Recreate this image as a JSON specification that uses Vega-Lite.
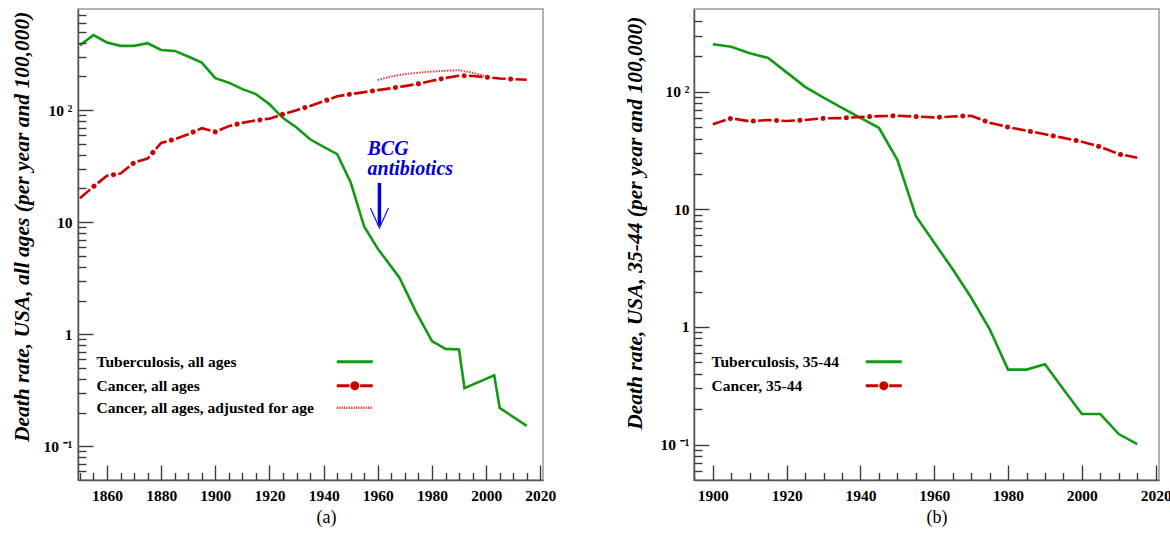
{
  "$schema": "https://vega.github.io/schema/vega-lite/v6.json",
  "background": "white",
  "padding": {"left": 10, "top": 8, "right": 0, "bottom": 0},
  "spacing": 66,
  "datasets": {
    "left": [
      {"series": "Tuberculosis, all ages", "year": 1850, "rate": 380},
      {"series": "Tuberculosis, all ages", "year": 1855, "rate": 468},
      {"series": "Tuberculosis, all ages", "year": 1860, "rate": 402},
      {"series": "Tuberculosis, all ages", "year": 1865, "rate": 375},
      {"series": "Tuberculosis, all ages", "year": 1870, "rate": 375},
      {"series": "Tuberculosis, all ages", "year": 1875, "rate": 396},
      {"series": "Tuberculosis, all ages", "year": 1880, "rate": 345},
      {"series": "Tuberculosis, all ages", "year": 1885, "rate": 338},
      {"series": "Tuberculosis, all ages", "year": 1890, "rate": 301},
      {"series": "Tuberculosis, all ages", "year": 1895, "rate": 266},
      {"series": "Tuberculosis, all ages", "year": 1900, "rate": 193},
      {"series": "Tuberculosis, all ages", "year": 1905, "rate": 176},
      {"series": "Tuberculosis, all ages", "year": 1910, "rate": 154},
      {"series": "Tuberculosis, all ages", "year": 1915, "rate": 139},
      {"series": "Tuberculosis, all ages", "year": 1920, "rate": 113},
      {"series": "Tuberculosis, all ages", "year": 1925, "rate": 85},
      {"series": "Tuberculosis, all ages", "year": 1930, "rate": 70},
      {"series": "Tuberculosis, all ages", "year": 1935, "rate": 55},
      {"series": "Tuberculosis, all ages", "year": 1940, "rate": 47},
      {"series": "Tuberculosis, all ages", "year": 1945, "rate": 40.5},
      {"series": "Tuberculosis, all ages", "year": 1950, "rate": 22.6},
      {"series": "Tuberculosis, all ages", "year": 1955, "rate": 9.1},
      {"series": "Tuberculosis, all ages", "year": 1960, "rate": 5.8},
      {"series": "Tuberculosis, all ages", "year": 1968, "rate": 3.2},
      {"series": "Tuberculosis, all ages", "year": 1974, "rate": 1.6},
      {"series": "Tuberculosis, all ages", "year": 1980, "rate": 0.87},
      {"series": "Tuberculosis, all ages", "year": 1985, "rate": 0.74},
      {"series": "Tuberculosis, all ages", "year": 1990, "rate": 0.73},
      {"series": "Tuberculosis, all ages", "year": 1992, "rate": 0.33},
      {"series": "Tuberculosis, all ages", "year": 2003, "rate": 0.43},
      {"series": "Tuberculosis, all ages", "year": 2005, "rate": 0.22},
      {"series": "Tuberculosis, all ages", "year": 2015, "rate": 0.152},
      {"series": "Cancer, all ages", "year": 1850, "rate": 16.4},
      {"series": "Cancer, all ages", "year": 1855, "rate": 20.8},
      {"series": "Cancer, all ages", "year": 1860, "rate": 26},
      {"series": "Cancer, all ages", "year": 1865, "rate": 27.2},
      {"series": "Cancer, all ages", "year": 1870, "rate": 34},
      {"series": "Cancer, all ages", "year": 1875, "rate": 37},
      {"series": "Cancer, all ages", "year": 1880, "rate": 51},
      {"series": "Cancer, all ages", "year": 1885, "rate": 55},
      {"series": "Cancer, all ages", "year": 1890, "rate": 61},
      {"series": "Cancer, all ages", "year": 1895, "rate": 69},
      {"series": "Cancer, all ages", "year": 1900, "rate": 64},
      {"series": "Cancer, all ages", "year": 1905, "rate": 72},
      {"series": "Cancer, all ages", "year": 1910, "rate": 77},
      {"series": "Cancer, all ages", "year": 1915, "rate": 81},
      {"series": "Cancer, all ages", "year": 1920, "rate": 84},
      {"series": "Cancer, all ages", "year": 1925, "rate": 92},
      {"series": "Cancer, all ages", "year": 1930, "rate": 100},
      {"series": "Cancer, all ages", "year": 1935, "rate": 109},
      {"series": "Cancer, all ages", "year": 1940, "rate": 120},
      {"series": "Cancer, all ages", "year": 1945, "rate": 133},
      {"series": "Cancer, all ages", "year": 1950, "rate": 139},
      {"series": "Cancer, all ages", "year": 1955, "rate": 145},
      {"series": "Cancer, all ages", "year": 1960, "rate": 151},
      {"series": "Cancer, all ages", "year": 1965, "rate": 157},
      {"series": "Cancer, all ages", "year": 1970, "rate": 164},
      {"series": "Cancer, all ages", "year": 1975, "rate": 172},
      {"series": "Cancer, all ages", "year": 1980, "rate": 183},
      {"series": "Cancer, all ages", "year": 1985, "rate": 194},
      {"series": "Cancer, all ages", "year": 1990, "rate": 203},
      {"series": "Cancer, all ages", "year": 1995, "rate": 202},
      {"series": "Cancer, all ages", "year": 2000, "rate": 197},
      {"series": "Cancer, all ages", "year": 2005, "rate": 192},
      {"series": "Cancer, all ages", "year": 2010, "rate": 189},
      {"series": "Cancer, all ages", "year": 2015, "rate": 187},
      {"series": "Cancer, all ages, adjusted for age", "year": 1960, "rate": 186},
      {"series": "Cancer, all ages, adjusted for age", "year": 1965, "rate": 200},
      {"series": "Cancer, all ages, adjusted for age", "year": 1970, "rate": 210},
      {"series": "Cancer, all ages, adjusted for age", "year": 1975, "rate": 216},
      {"series": "Cancer, all ages, adjusted for age", "year": 1980, "rate": 221},
      {"series": "Cancer, all ages, adjusted for age", "year": 1985, "rate": 225},
      {"series": "Cancer, all ages, adjusted for age", "year": 1990, "rate": 227},
      {"series": "Cancer, all ages, adjusted for age", "year": 1995, "rate": 216},
      {"series": "Cancer, all ages, adjusted for age", "year": 2000, "rate": 201}
    ],
    "right": [
      {"series": "Tuberculosis, 35-44", "year": 1900, "rate": 253},
      {"series": "Tuberculosis, 35-44", "year": 1905, "rate": 241},
      {"series": "Tuberculosis, 35-44", "year": 1910, "rate": 212},
      {"series": "Tuberculosis, 35-44", "year": 1915, "rate": 194},
      {"series": "Tuberculosis, 35-44", "year": 1920, "rate": 146},
      {"series": "Tuberculosis, 35-44", "year": 1925, "rate": 110},
      {"series": "Tuberculosis, 35-44", "year": 1930, "rate": 89},
      {"series": "Tuberculosis, 35-44", "year": 1935, "rate": 73},
      {"series": "Tuberculosis, 35-44", "year": 1940, "rate": 60},
      {"series": "Tuberculosis, 35-44", "year": 1945, "rate": 49.4},
      {"series": "Tuberculosis, 35-44", "year": 1950, "rate": 26.4},
      {"series": "Tuberculosis, 35-44", "year": 1955, "rate": 8.8},
      {"series": "Tuberculosis, 35-44", "year": 1960, "rate": 5.2},
      {"series": "Tuberculosis, 35-44", "year": 1965, "rate": 3.1},
      {"series": "Tuberculosis, 35-44", "year": 1970, "rate": 1.78},
      {"series": "Tuberculosis, 35-44", "year": 1975, "rate": 0.96},
      {"series": "Tuberculosis, 35-44", "year": 1980, "rate": 0.434},
      {"series": "Tuberculosis, 35-44", "year": 1985, "rate": 0.434},
      {"series": "Tuberculosis, 35-44", "year": 1990, "rate": 0.483},
      {"series": "Tuberculosis, 35-44", "year": 1995, "rate": 0.296},
      {"series": "Tuberculosis, 35-44", "year": 2000, "rate": 0.182},
      {"series": "Tuberculosis, 35-44", "year": 2005, "rate": 0.182},
      {"series": "Tuberculosis, 35-44", "year": 2010, "rate": 0.123},
      {"series": "Tuberculosis, 35-44", "year": 2015, "rate": 0.101},
      {"series": "Cancer, 35-44", "year": 1900, "rate": 52.8},
      {"series": "Cancer, 35-44", "year": 1905, "rate": 59.5},
      {"series": "Cancer, 35-44", "year": 1910, "rate": 56},
      {"series": "Cancer, 35-44", "year": 1915, "rate": 57.5},
      {"series": "Cancer, 35-44", "year": 1920, "rate": 56.4},
      {"series": "Cancer, 35-44", "year": 1925, "rate": 57.5},
      {"series": "Cancer, 35-44", "year": 1930, "rate": 59.4},
      {"series": "Cancer, 35-44", "year": 1935, "rate": 59.7},
      {"series": "Cancer, 35-44", "year": 1940, "rate": 61},
      {"series": "Cancer, 35-44", "year": 1945, "rate": 62},
      {"series": "Cancer, 35-44", "year": 1950, "rate": 62.5},
      {"series": "Cancer, 35-44", "year": 1955, "rate": 61.5},
      {"series": "Cancer, 35-44", "year": 1960, "rate": 60.5},
      {"series": "Cancer, 35-44", "year": 1965, "rate": 61.5},
      {"series": "Cancer, 35-44", "year": 1970, "rate": 62.5},
      {"series": "Cancer, 35-44", "year": 1975, "rate": 54.5},
      {"series": "Cancer, 35-44", "year": 1980, "rate": 50},
      {"series": "Cancer, 35-44", "year": 1985, "rate": 46.7},
      {"series": "Cancer, 35-44", "year": 1990, "rate": 43.5},
      {"series": "Cancer, 35-44", "year": 1995, "rate": 40.5},
      {"series": "Cancer, 35-44", "year": 2000, "rate": 37.6},
      {"series": "Cancer, 35-44", "year": 2005, "rate": 34},
      {"series": "Cancer, 35-44", "year": 2010, "rate": 29.5},
      {"series": "Cancer, 35-44", "year": 2015, "rate": 27.5}
    ],
    "annot": [
      {"kind": "text", "year": 1956.2, "rate": 39.9, "label": ["BCG", "antibiotics"]},
      {"kind": "shaft", "year": 1960.6, "rate": 22.4, "rate2": 9.3},
      {"kind": "head", "year": 1960.6, "rate": 10.9}
    ]
  },
  "resolve": {
    "scale": {"color": "independent", "x": "independent", "y": "independent"},
    "legend": {"color": "independent"}
  },
  "hconcat": [
    {
      "width": 465,
      "height": 471,
      "resolve": {"axis": {"x": "independent", "y": "independent"}},
      "encoding": {
        "x": {"field": "year", "type": "quantitative", "scale": {"domain": [1849.3, 2021], "nice": false, "zero": false}, "axis": null},
        "y": {"field": "rate", "type": "quantitative", "scale": {"type": "log", "domain": [0.05, 800], "nice": false}, "axis": null}
      },
      "layer": [
        {
          "data": {"name": "left"},
          "transform": [{"filter": "datum.series === 'Tuberculosis, all ages'"}],
          "mark": {"type": "line", "strokeWidth": 2.6},
          "encoding": {
            "x": {
              "field": "year", "type": "quantitative",
              "scale": {"domain": [1849.3, 2021], "nice": false, "zero": false},
              "axis": {
                "orient": "bottom", "zindex": 1,
                "title": "(a)", "titleFontWeight": "normal", "titleFontSize": 18, "titleColor": "black",
                "titleX": 248, "titleY": 28, "titleBaseline": "top", "titleAlign": "center",
                "values": [1860, 1880, 1900, 1920, 1940, 1960, 1980, 2000, 2020],
                "format": "d",
                "tickSize": -15, "tickColor": "#3a3a3a", "tickWidth": 1.4,
                "labelPadding": 23
              }
            },
            "y": {
              "field": "rate", "type": "quantitative",
              "scale": {"type": "log", "domain": [0.05, 800], "nice": false},
              "axis": {
                "orient": "left", "zindex": 1,
                "title": "Death rate, USA, all ages (per year and 100,000)",
                "titleX": -50, "titleY": 2,
                "values": [0.1, 1, 10, 100],
                "labelExpr": "datum.value == 100 ? '10\u00a0²' : datum.value == 10 ? '10\u00a0\u00a0\u00a0' : datum.value == 1 ? '1\u00a0\u00a0\u00a0' : '10\u00a0⁻¹'",
                "tickSize": -15, "tickColor": "#3a3a3a", "tickWidth": 1.4,
                "labelPadding": 21
              }
            },
            "color": {
              "field": "series", "type": "nominal",
              "scale": {"domain": ["Tuberculosis, all ages", "Cancer, all ages", "Cancer, all ages, adjusted for age"], "range": ["#139a13", "#cc0000", "#ff2a2a"]},
              "legend": {
                "orient": "none", "legendX": 269, "legendY": 345, "title": null,
                "labelAlign": "left", "labelOffset": -266, "rowPadding": 5, "labelLimit": 400,
                "symbolSize": 144,
                "encoding": {
                  "symbols": {
                    "shape": {"value": {"expr": "datum.value === 'Cancer, all ages' ? 'M-3,0L-0.9,0M0.9,0L3,0M-0.5,0A0.5,0.5,0,1,0,0.5,0A0.5,0.5,0,1,0,-0.5,0Z' : 'M-3,0L3,0'"}},
                    "fill": {"value": {"expr": "datum.value === 'Cancer, all ages' ? '#cc0000' : 'transparent'"}},
                    "strokeDash": {"value": {"expr": "datum.value === 'Cancer, all ages, adjusted for age' ? [1.2,1.2] : [1,0]"}},
                    "strokeWidth": {"value": {"expr": "datum.value === 'Cancer, all ages, adjusted for age' ? 2.5 : 3"}}
                  }
                }
              }
            }
          }
        },
        {
          "data": {"name": "left"},
          "transform": [{"filter": "datum.series === 'Cancer, all ages'"}],
          "mark": {"type": "line", "strokeWidth": 2.6, "strokeDash": [13.5, 9.8]},
          "encoding": {
            "x": {
              "field": "year", "type": "quantitative",
              "scale": {"domain": [1849.3, 2021], "nice": false, "zero": false},
              "axis": {
                "orient": "bottom", "zindex": 1, "title": null, "labels": false, "domain": false,
                "values": [1850,1855,1865,1870,1875,1885,1890,1895,1905,1910,1915,1925,1930,1935,1945,1950,1955,1965,1970,1975,1985,1990,1995,2005,2010,2015],
                "tickSize": -7.5, "tickColor": "#3a3a3a", "tickWidth": 1.4
              }
            },
            "y": {
              "field": "rate", "type": "quantitative",
              "scale": {"type": "log", "domain": [0.05, 800], "nice": false},
              "axis": {
                "orient": "left", "zindex": 1, "title": null, "labels": false, "domain": false,
                "values": [0.06,0.07,0.08,0.09,0.2,0.3,0.4,0.5,0.6,0.7,0.8,0.9,2,3,4,5,6,7,8,9,20,30,40,50,60,70,80,90,200,300,400,500,600,700],
                "tickSize": -8, "tickColor": "#3a3a3a", "tickWidth": 1.4
              }
            },
            "color": {"field": "series", "type": "nominal"}
          }
        },
        {
          "data": {"name": "left"},
          "transform": [{"filter": "datum.series === 'Cancer, all ages'"}],
          "mark": {"type": "line", "strokeWidth": 5, "strokeCap": "round", "strokeDash": [0.1, 23.2], "strokeDashOffset": 4.9},
          "encoding": {"color": {"field": "series", "type": "nominal"}}
        },
        {
          "data": {"name": "left"},
          "transform": [{"filter": "datum.series === 'Cancer, all ages, adjusted for age'"}],
          "mark": {"type": "line", "strokeWidth": 2, "strokeDash": [1.4, 1.4]},
          "encoding": {"color": {"field": "series", "type": "nominal"}}
        },
        {
          "data": {"name": "annot"},
          "transform": [{"filter": "datum.kind === 'text'"}],
          "mark": {"type": "text", "align": "left", "baseline": "alphabetic", "font": "Liberation Serif", "fontSize": 20, "fontStyle": "italic", "fontWeight": "bold", "color": "#0000dd", "lineHeight": 20},
          "encoding": {"text": {"field": "label"}}
        },
        {
          "data": {"name": "annot"},
          "transform": [{"filter": "datum.kind === 'shaft'"}],
          "mark": {"type": "rule", "strokeWidth": 3.5, "color": "#0000dd"},
          "encoding": {"y2": {"field": "rate2"}}
        },
        {
          "data": {"name": "annot"},
          "transform": [{"filter": "datum.kind === 'head'"}],
          "mark": {"type": "point", "shape": "M-0.9,-1L0,1L0.9,-1", "size": 400, "filled": false, "strokeWidth": 1.3, "color": "#2222ee", "opacity": 1},
          "encoding": {}
        }
      ]
    },
    {
      "width": 465,
      "height": 471,
      "data": {"name": "right"},
      "resolve": {"axis": {"x": "independent", "y": "independent"}},
      "encoding": {
        "x": {"field": "year", "type": "quantitative", "scale": {"domain": [1894.9, 2020.9], "nice": false, "zero": false}, "axis": null},
        "y": {"field": "rate", "type": "quantitative", "scale": {"type": "log", "domain": [0.05, 505], "nice": false}, "axis": null}
      },
      "layer": [
        {
          "transform": [{"filter": "datum.series === 'Tuberculosis, 35-44'"}],
          "mark": {"type": "line", "strokeWidth": 2.6},
          "encoding": {
            "x": {
              "field": "year", "type": "quantitative",
              "scale": {"domain": [1894.9, 2020.9], "nice": false, "zero": false},
              "axis": {
                "orient": "bottom", "zindex": 1,
                "title": "(b)", "titleFontWeight": "normal", "titleFontSize": 18, "titleColor": "black",
                "titleX": 242.5, "titleY": 28, "titleBaseline": "top", "titleAlign": "center",
                "values": [1900, 1920, 1940, 1960, 1980, 2000, 2020],
                "format": "d",
                "tickSize": -15, "tickColor": "#3a3a3a", "tickWidth": 1.4,
                "labelPadding": 23
              }
            },
            "y": {
              "field": "rate", "type": "quantitative",
              "scale": {"type": "log", "domain": [0.05, 505], "nice": false},
              "axis": {
                "orient": "left", "zindex": 1,
                "title": "Death rate, USA, 35-44 (per year and 100,000)",
                "titleX": -53, "titleY": 7,
                "values": [0.1, 1, 10, 100],
                "labelExpr": "datum.value == 100 ? '10\u00a0²' : datum.value == 10 ? '10\u00a0\u00a0\u00a0' : datum.value == 1 ? '1\u00a0\u00a0\u00a0' : '10\u00a0⁻¹'",
                "tickSize": -15, "tickColor": "#3a3a3a", "tickWidth": 1.4,
                "labelPadding": 20
              }
            },
            "color": {
              "field": "series", "type": "nominal",
              "scale": {"domain": ["Tuberculosis, 35-44", "Cancer, 35-44"], "range": ["#139a13", "#cc0000"]},
              "legend": {
                "orient": "none", "legendX": 182, "legendY": 345, "title": null,
                "labelAlign": "left", "labelOffset": -180, "rowPadding": 5, "labelLimit": 400,
                "symbolSize": 144,
                "encoding": {
                  "symbols": {
                    "shape": {"value": {"expr": "datum.value === 'Cancer, 35-44' ? 'M-3,0L-0.9,0M0.9,0L3,0M-0.5,0A0.5,0.5,0,1,0,0.5,0A0.5,0.5,0,1,0,-0.5,0Z' : 'M-3,0L3,0'"}},
                    "fill": {"value": {"expr": "datum.value === 'Cancer, 35-44' ? '#cc0000' : 'transparent'"}},
                    "strokeDash": {"value": [1, 0]},
                    "strokeWidth": {"value": 3}
                  }
                }
              }
            }
          }
        },
        {
          "transform": [{"filter": "datum.series === 'Cancer, 35-44'"}],
          "mark": {"type": "line", "strokeWidth": 2.6, "strokeDash": [13.5, 9.8]},
          "encoding": {
            "x": {
              "field": "year", "type": "quantitative",
              "scale": {"domain": [1894.9, 2020.9], "nice": false, "zero": false},
              "axis": {
                "orient": "bottom", "zindex": 1, "title": null, "labels": false, "domain": false,
                "values": [1895,1905,1910,1915,1925,1930,1935,1945,1950,1955,1965,1970,1975,1985,1990,1995,2005,2010,2015],
                "tickSize": -7.5, "tickColor": "#3a3a3a", "tickWidth": 1.4
              }
            },
            "y": {
              "field": "rate", "type": "quantitative",
              "scale": {"type": "log", "domain": [0.05, 505], "nice": false},
              "axis": {
                "orient": "left", "zindex": 1, "title": null, "labels": false, "domain": false,
                "values": [0.06,0.07,0.08,0.09,0.2,0.3,0.4,0.5,0.6,0.7,0.8,0.9,2,3,4,5,6,7,8,9,20,30,40,50,60,70,80,90,200,300,400],
                "tickSize": -8, "tickColor": "#3a3a3a", "tickWidth": 1.4
              }
            },
            "color": {"field": "series", "type": "nominal"}
          }
        },
        {
          "transform": [{"filter": "datum.series === 'Cancer, 35-44'"}],
          "mark": {"type": "line", "strokeWidth": 5, "strokeCap": "round", "strokeDash": [0.1, 23.2], "strokeDashOffset": 4.9},
          "encoding": {"color": {"field": "series", "type": "nominal"}}
        }
      ]
    }
  ],
  "config": {
    "font": "Liberation Serif",
    "view": {"stroke": "#999", "strokeWidth": 1.5},
    "axis": {
      "grid": false,
      "domainColor": "#555", "domainWidth": 1.5,
      "labelFont": "Liberation Serif", "labelFontWeight": "bold", "labelFontSize": 15.5, "labelColor": "black",
      "labelOverlap": false, "labelFlush": false,
      "titleFont": "Liberation Serif", "titleColor": "black"
    },
    "axisY": {
      "titleFontStyle": "italic", "titleFontWeight": "bold", "titleFontSize": 21.5,
      "titleAngle": 270, "titleAlign": "right", "titleBaseline": "alphabetic", "titleAnchor": "end"
    },
    "legend": {
      "labelFont": "Liberation Serif", "labelFontWeight": "bold", "labelFontSize": 15.5, "labelColor": "black",
      "padding": 0
    }
  }
}
